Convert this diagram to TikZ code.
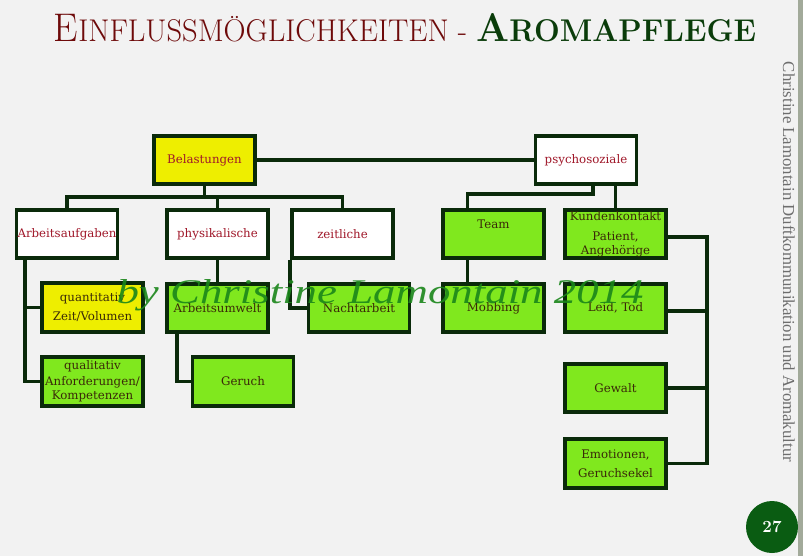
\documentclass[tikz,border=0pt]{standalone}
\usepackage{fontspec}
\usepackage{graphicx}
\newfontfamily\boxfont{DejaVu Serif}
\newfontfamily\sidefont{Liberation Serif}
\definecolor{bgcol}{HTML}{F2F2F2}
\definecolor{edgecol}{HTML}{0A2A0A}
\definecolor{yelcol}{HTML}{EEEE00}
\definecolor{grncol}{HTML}{80E81E}
\definecolor{redtxt}{HTML}{A0182A}
\definecolor{drktxt}{HTML}{3A2A08}
\definecolor{ttlred}{HTML}{6E0A0A}
\definecolor{ttlgrn}{HTML}{0A3C0A}
\definecolor{pgcol}{HTML}{0A5C12}
\definecolor{wmcol}{HTML}{1A861A}
\definecolor{stripcol}{HTML}{A2AA9A}
\definecolor{sidetxt}{HTML}{6E6E6E}
\begin{document}
\begin{tikzpicture}[x=1pt,y=-1pt,
	box/.style={draw=edgecol,line width=3.6pt,minimum width=101pt,minimum height=48.5pt,
		inner sep=0pt,align=center,font={\boxfont\fontsize{11.8}{14}\selectfont}},
	topbox/.style={box,fill=white,text=redtxt},
	yelbox/.style={box,fill=yelcol,text=drktxt},
	grnbox/.style={box,fill=grncol,text=drktxt},
	link/.style={draw=edgecol,line width=3.6pt}]
	\fill[bgcol] (0,0) rectangle (803,556);
	\fill[stripcol] (798,0) rectangle (803,556);
	% title
	\node[anchor=base] (ttl) at (405,42) {\resizebox{702pt}{28pt}{%
		\color{ttlred}{\fontsize{28}{28}\selectfont E}{\fontsize{22}{22}\selectfont INFLUSSMÖGLICHKEITEN - }%
		\color{ttlgrn}\bfseries{\fontsize{28}{28}\selectfont A}{\fontsize{22}{22}\selectfont ROMAPFLEGE}}};
	% boxes
	\node[yelbox,text=redtxt] (bel) at (204.5,160) {Belastungen};
	\node[topbox] (psy) at (586,160) {psychosoziale};
	\node[topbox] (arb) at (67,234) {Arbeitsaufgaben};
	\node[topbox] (phy) at (217.5,234) {physikalische};
	\node[topbox] (zeit) at (342.5,234) {zeitliche};
	\node[grnbox] (team) at (493.5,234) {Team\\[5pt]\mbox{}};
	\node[grnbox] (kund) at (615.5,234) {Kundenkontakt\\[6pt]Patient,\\Angehörige};
	\node[yelbox] (quant) at (92.5,307.5) {quantitativ\\[5pt]Zeit/Volumen};
	\node[grnbox] (umw) at (217.5,308) {Arbeitsumwelt};
	\node[grnbox] (nacht) at (359,308) {Nachtarbeit};
	\node[grnbox] (mob) at (493.5,308) {Mobbing};
	\node[grnbox] (leid) at (615.5,308) {Leid, Tod};
	\node[grnbox] (qual) at (92.5,381.5) {qualitativ\\[2pt]Anforderungen/\\Kompetenzen};
	\node[grnbox] (ger) at (243,381.5) {Geruch};
	\node[grnbox] (gew) at (615.5,388) {Gewalt};
	\node[grnbox] (emo) at (615.5,463.5) {Emotionen,\\[5pt]Geruchsekel};
	% links
	\coordinate (bbus) at (204.5,197);
	\coordinate (kbar) at (707,0);
	\draw[link] (bel.east) -- (psy.west);
	\draw[link] (bel.south) -- (bbus);
	\draw[link] (arb.north) -- (arb.north |- bbus) -- (zeit.north |- bbus) -- (zeit.north);
	\draw[link] (phy.north) -- (phy.north |- bbus);
	\draw[link] ([xshift=10pt]arb.south west) |- (quant.west);
	\draw[link] ([xshift=10pt]arb.south west) |- (qual.west);
	\draw[link] (phy.south) -- (umw.north);
	\draw[link] ([xshift=12pt]umw.south west) |- (ger.west);
	\draw[link] (zeit.south west) |- (nacht.west);
	\draw[link] ([xshift=7pt]psy.south) -- ++(0,8) -| ([xshift=-26pt]team.north);
	\draw[link] (kund.north) -- (kund.north |- psy.south);
	\draw[link] ([xshift=-26pt]team.south) -- ([xshift=-26pt]mob.north);
	\draw[link] ([yshift=-3pt]kund.east) -| (kbar |- emo.east) -- (emo.east);
	\draw[link] ([yshift=-3pt]leid.east) -- ([yshift=-3pt]leid.east -| kbar);
	\draw[link] (gew.east) -- (gew.east -| kbar);
	% side text, page number, watermark
	\node[rotate=-90,text=sidetxt] (side) at (789,262) {\resizebox{400pt}{!}{\sidefont Christine Lamontain Duftkommunikation und Aromakultur}};
	\node[circle,fill=pgcol,minimum size=52pt,text=white,font={\bfseries\fontsize{17}{17}\selectfont}] (pg) at (772,527) {27};
	\node[anchor=base west,text=wmcol,opacity=0.9] (wm) at (113,303) {\resizebox{527pt}{24pt}{\sidefont\itshape by Christine Lamontain 2014}};
\end{tikzpicture}
\end{document}
